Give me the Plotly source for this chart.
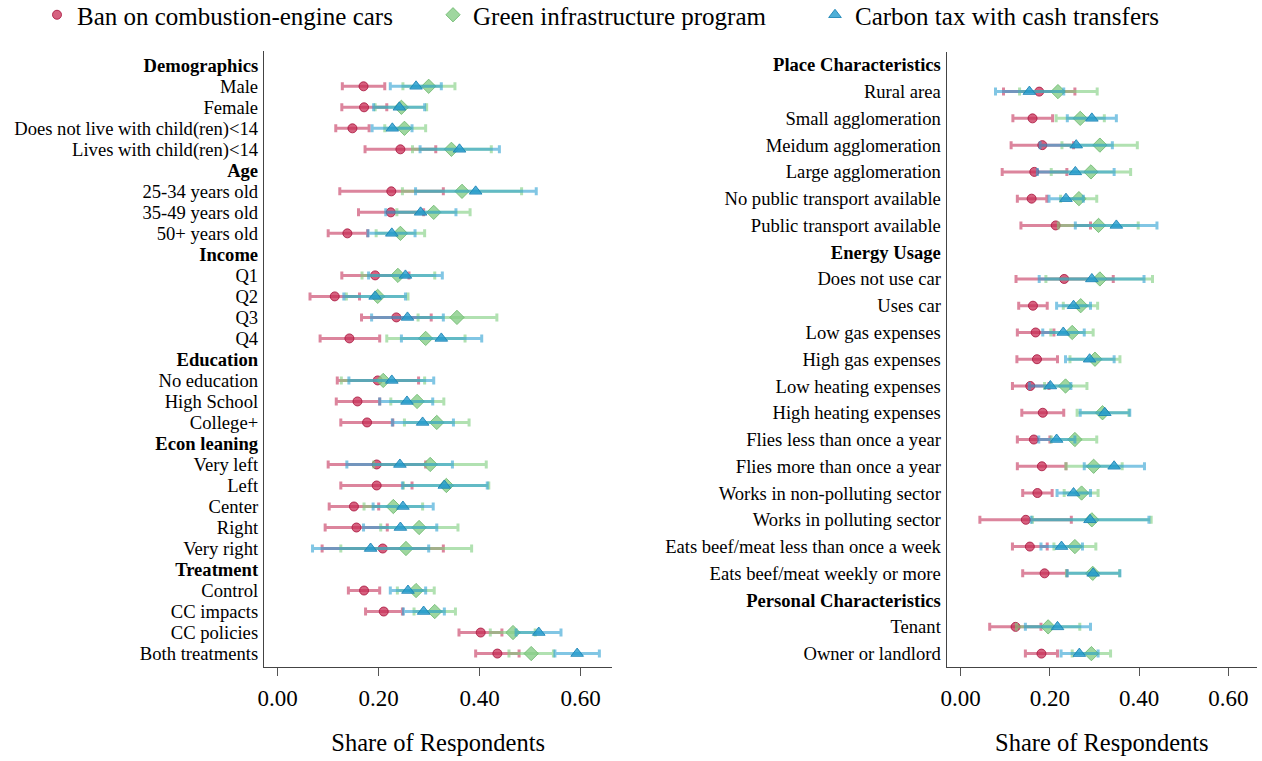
import plotly.graph_objects as go

# ---------------- data ----------------
left_labels = ["Demographics", "Male", "Female", "Does not live with child(ren)<14",
               "Lives with child(ren)<14", "Age", "25-34 years old", "35-49 years old",
               "50+ years old", "Income", "Q1", "Q2", "Q3", "Q4", "Education",
               "No education", "High School", "College+", "Econ leaning", "Very left",
               "Left", "Center", "Right", "Very right", "Treatment", "Control",
               "CC impacts", "CC policies", "Both treatments"]
left_headers = ["Demographics", "Age", "Income", "Education", "Econ leaning", "Treatment"]

N = None
left_ban_pt = [N, 0.170, 0.171, 0.148, 0.243, N, 0.225, 0.224, 0.138, N, 0.193, 0.113, 0.235, 0.142,
               N, 0.198, 0.158, 0.177, N, 0.196, 0.196, 0.151, 0.156, 0.208, N, 0.171, 0.210, 0.402, 0.435]
left_ban_lo = [N, 0.128, 0.127, 0.115, 0.173, N, 0.123, 0.160, 0.100, N, 0.127, 0.064, 0.166, 0.084,
               N, 0.118, 0.116, 0.125, N, 0.100, 0.125, 0.102, 0.094, 0.088, N, 0.140, 0.174, 0.359, 0.392]
left_ban_hi = [N, 0.212, 0.216, 0.181, 0.313, N, 0.328, 0.289, 0.178, N, 0.260, 0.162, 0.304, 0.202,
               N, 0.279, 0.202, 0.228, N, 0.293, 0.266, 0.200, 0.217, 0.328, N, 0.202, 0.247, 0.444, 0.478]

left_green_pt = [N, 0.299, 0.245, 0.251, 0.344, N, 0.365, 0.309, 0.243, N, 0.238, 0.198, 0.355, 0.293,
                 N, 0.209, 0.276, 0.315, N, 0.302, 0.334, 0.229, 0.280, 0.254, N, 0.274, 0.311, 0.466, 0.502]
left_green_lo = [N, 0.248, 0.193, 0.212, 0.267, N, 0.247, 0.236, 0.195, N, 0.167, 0.136, 0.278, 0.216,
                 N, 0.126, 0.224, 0.251, N, 0.190, 0.249, 0.171, 0.204, 0.125, N, 0.237, 0.270, 0.421, 0.458]
left_green_hi = [N, 0.351, 0.295, 0.293, 0.423, N, 0.483, 0.381, 0.291, N, 0.311, 0.258, 0.434, 0.371,
                 N, 0.291, 0.329, 0.379, N, 0.413, 0.418, 0.287, 0.357, 0.384, N, 0.310, 0.352, 0.510, 0.546]

left_carbon_pt = [N, 0.274, 0.241, 0.227, 0.360, N, 0.392, 0.283, 0.226, N, 0.253, 0.193, 0.257, 0.324,
                  N, 0.226, 0.256, 0.287, N, 0.242, 0.330, 0.248, 0.243, 0.184, N, 0.258, 0.289, 0.517, 0.593]
left_carbon_lo = [N, 0.223, 0.190, 0.187, 0.282, N, 0.273, 0.214, 0.179, N, 0.180, 0.131, 0.186, 0.245,
                  N, 0.141, 0.202, 0.227, N, 0.137, 0.247, 0.189, 0.170, 0.069, N, 0.223, 0.249, 0.472, 0.549]
left_carbon_hi = [N, 0.324, 0.291, 0.266, 0.439, N, 0.512, 0.353, 0.272, N, 0.326, 0.253, 0.328, 0.404,
                  N, 0.309, 0.307, 0.348, N, 0.346, 0.415, 0.308, 0.315, 0.299, N, 0.293, 0.330, 0.561, 0.637]

right_labels = ["Place Characteristics", "Rural area", "Small agglomeration", "Meidum agglomeration",
                "Large agglomeration", "No public transport available", "Public transport available",
                "Energy Usage", "Does not use car", "Uses car", "Low gas expenses", "High gas expenses",
                "Low heating expenses", "High heating expenses", "Flies less than once a year",
                "Flies more than once a year", "Works in non-polluting sector", "Works in polluting sector",
                "Eats beef/meat less than once a week", "Eats beef/meat weekly or more",
                "Personal Characteristics", "Tenant", "Owner or landlord"]
right_headers = ["Place Characteristics", "Energy Usage", "Personal Characteristics"]

right_ban_pt = [N, 0.176, 0.161, 0.183, 0.165, 0.159, 0.213, N, 0.232, 0.162, 0.168, 0.171, 0.156, 0.184,
                0.164, 0.182, 0.172, 0.146, 0.155, 0.188, N, 0.123, 0.181]
right_ban_lo = [N, 0.096, 0.117, 0.113, 0.093, 0.127, 0.135, N, 0.124, 0.130, 0.127, 0.126, 0.116, 0.137,
                0.127, 0.127, 0.139, 0.043, 0.116, 0.139, N, 0.065, 0.145]
right_ban_hi = [N, 0.256, 0.206, 0.253, 0.238, 0.193, 0.291, N, 0.342, 0.194, 0.209, 0.217, 0.198, 0.231,
                0.200, 0.236, 0.205, 0.248, 0.194, 0.238, N, 0.180, 0.217]

right_green_pt = [N, 0.218, 0.268, 0.312, 0.292, 0.265, 0.309, N, 0.312, 0.269, 0.250, 0.301, 0.235, 0.318,
                  0.256, 0.298, 0.271, 0.294, 0.256, 0.296, N, 0.196, 0.293]
right_green_lo = [N, 0.132, 0.214, 0.227, 0.203, 0.224, 0.219, N, 0.191, 0.230, 0.202, 0.245, 0.188, 0.261,
                  0.203, 0.236, 0.232, 0.161, 0.209, 0.237, N, 0.125, 0.250]
right_green_hi = [N, 0.306, 0.322, 0.396, 0.381, 0.305, 0.398, N, 0.430, 0.307, 0.297, 0.357, 0.283, 0.377,
                  0.305, 0.362, 0.308, 0.427, 0.303, 0.356, N, 0.267, 0.336]

right_carbon_pt = [N, 0.154, 0.294, 0.259, 0.257, 0.236, 0.349, N, 0.294, 0.253, 0.230, 0.289, 0.201, 0.323,
                   0.215, 0.344, 0.253, 0.290, 0.226, 0.297, N, 0.217, 0.266]
right_carbon_lo = [N, 0.078, 0.239, 0.178, 0.172, 0.198, 0.257, N, 0.176, 0.215, 0.184, 0.235, 0.154, 0.268,
                   0.175, 0.277, 0.216, 0.158, 0.180, 0.239, N, 0.145, 0.225]
right_carbon_hi = [N, 0.231, 0.349, 0.340, 0.344, 0.275, 0.440, N, 0.411, 0.291, 0.277, 0.344, 0.247, 0.379,
                   0.256, 0.412, 0.291, 0.422, 0.273, 0.357, N, 0.291, 0.308]

x_ticks = [0.0, 0.2, 0.4, 0.6]
x_title = "Share of Respondents"
series_names = ["Ban on combustion-engine cars", "Green infrastructure program",
                "Carbon tax with cash transfers"]

# ---------------- style ----------------
FONT = "Liberation Serif"
bar_colors = ["rgba(196,52,92,0.6)", "rgba(125,205,125,0.6)", "rgba(45,160,210,0.6)"]
mk_colors = ["rgba(200,45,85,0.75)", "rgba(135,205,135,0.8)", "rgba(35,155,205,0.8)"]
mk_lines = ["rgba(170,25,65,0.85)", "rgba(110,185,110,0.85)", "rgba(25,130,180,0.85)"]
symbols = ["circle", "diamond", "triangle-up"]
sizes = [9, 11, 11]
legend_ids = ["legend", "legend2", "legend3"]

fig = go.Figure()

panels = [
    ("x", "y", left_labels, [(left_ban_pt, left_ban_lo, left_ban_hi),
                             (left_green_pt, left_green_lo, left_green_hi),
                             (left_carbon_pt, left_carbon_lo, left_carbon_hi)]),
    ("x2", "y2", right_labels, [(right_ban_pt, right_ban_lo, right_ban_hi),
                                (right_green_pt, right_green_lo, right_green_hi),
                                (right_carbon_pt, right_carbon_lo, right_carbon_hi)]),
]

for p, (xa, ya, labels, series) in enumerate(panels):
    for s, (pt, lo, hi) in enumerate(series):
        idx = [i for i, v in enumerate(pt) if v is not None]
        xs = [pt[i] for i in idx]
        plus = [hi[i] - pt[i] for i in idx]
        minus = [pt[i] - lo[i] for i in idx]
        fig.add_trace(go.Scatter(
            x=xs, y=idx, xaxis=xa, yaxis=ya, mode="markers",
            name=series_names[s], showlegend=(p == 0), legend=legend_ids[s],
            marker=dict(symbol=symbols[s], size=sizes[s], color=mk_colors[s],
                        line=dict(color=mk_lines[s], width=1)),
            error_x=dict(type="data", symmetric=False, array=plus, arrayminus=minus,
                         color=bar_colors[s], thickness=3, width=4),
        ))

W, H = 1262, 761
def fx(px):
    return px / W
def fy(py):
    return 1 - py / H

axis_common = dict(showgrid=False, zeroline=False, showline=True, linecolor="#444",
                   linewidth=1.3, mirror=False)

def ytext(labels, headers):
    return [f"<b>{l}</b>" if l in headers else l for l in labels]

YFS = 18.6
LEG_Y = 1.0 + 8 / H
fig.update_layout(
    width=W, height=H, margin=dict(l=0, r=0, t=0, b=0, autoexpand=False),
    plot_bgcolor="white", paper_bgcolor="white",
    font=dict(family=FONT, color="black"),
    xaxis=dict(domain=[fx(264), fx(612.3)], range=[-0.0271, 0.6626], anchor="y",
               tickvals=x_ticks, tickformat=".2f", ticks="outside", ticklen=8,
               tickwidth=1.3, tickcolor="#555", tickfont=dict(size=23, family=FONT),
               ticklabelstandoff=2,
               title=dict(text=x_title, font=dict(size=24.5, family=FONT), standoff=24),
               **axis_common),
    yaxis=dict(domain=[fy(667), fy(51)], range=[28.64, -0.68], anchor="x",
               tickvals=list(range(len(left_labels))), ticktext=ytext(left_labels, left_headers),
               ticks="", ticklabelstandoff=1, tickfont=dict(size=YFS, family=FONT), **axis_common),
    xaxis2=dict(domain=[fx(946.7), fx(1257)], range=[-0.0314, 0.6643], anchor="y2",
                tickvals=x_ticks, tickformat=".2f", ticks="outside", ticklen=8,
                tickwidth=1.3, tickcolor="#555", tickfont=dict(size=23, family=FONT),
                ticklabelstandoff=2,
                title=dict(text=x_title, font=dict(size=24.5, family=FONT), standoff=24),
                **axis_common),
    yaxis2=dict(domain=[fy(667), fy(52)], range=[22.5, -0.48], anchor="x2",
                tickvals=list(range(len(right_labels))), ticktext=ytext(right_labels, right_headers),
                ticks="", ticklabelstandoff=1, tickfont=dict(size=YFS, family=FONT), **axis_common),
    legend=dict(orientation="h", x=fx(37), y=LEG_Y, xanchor="left", yanchor="top",
                font=dict(size=25, family=FONT), bgcolor="rgba(0,0,0,0)"),
    legend2=dict(orientation="h", x=fx(433), y=LEG_Y, xanchor="left", yanchor="top",
                 font=dict(size=25, family=FONT), bgcolor="rgba(0,0,0,0)"),
    legend3=dict(orientation="h", x=fx(815), y=LEG_Y, xanchor="left", yanchor="top",
                 font=dict(size=25, family=FONT), bgcolor="rgba(0,0,0,0)"),
)

fig.write_html("out.html")
